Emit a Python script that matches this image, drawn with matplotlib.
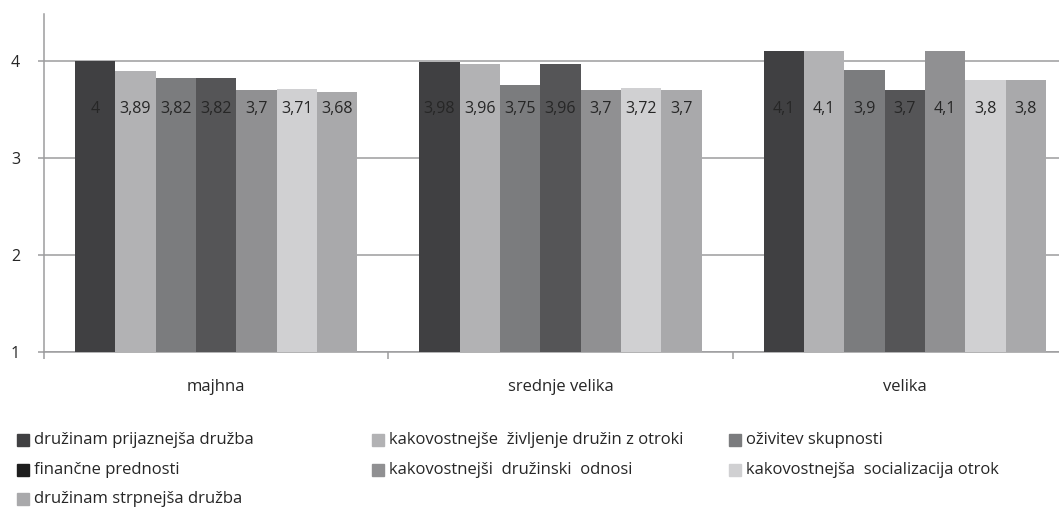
import matplotlib
matplotlib.use("Agg")
import matplotlib.pyplot as plt
from matplotlib.patches import Rectangle
import numpy as np

plt.rcParams['font.family'] = ['Open Sans', 'DejaVu Sans']

categories = ["majhna", "srednje velika", "velika"]
series_names = [
    "družinam prijaznejša družba",
    "kakovostnejše  življenje družin z otroki",
    "oživitev skupnosti",
    "finančne prednosti",
    "kakovostnejši  družinski  odnosi",
    "kakovostnejša  socializacija otrok",
    "družinam strpnejša družba",
]
values = [
    [4.0, 3.98, 4.1],
    [3.89, 3.96, 4.1],
    [3.82, 3.75, 3.9],
    [3.82, 3.96, 3.7],
    [3.7, 3.7, 4.1],
    [3.71, 3.72, 3.8],
    [3.68, 3.7, 3.8],
]
labels = [
    ["4", "3,98", "4,1"],
    ["3,89", "3,96", "4,1"],
    ["3,82", "3,75", "3,9"],
    ["3,82", "3,96", "3,7"],
    ["3,7", "3,7", "4,1"],
    ["3,71", "3,72", "3,8"],
    ["3,68", "3,7", "3,8"],
]
colors = ["#404042", "#b2b2b4", "#7b7c7e", "#555557", "#909092", "#d0d0d2", "#a9a9ab"]
legend_colors = ["#404042", "#b2b2b4", "#7b7c7e", "#1e1e1e", "#909092", "#d0d0d2", "#a9a9ab"]

W, H = 1059, 508
fig = plt.figure(figsize=(W / 100, H / 100), dpi=100)
x0, x1, ytop, ybot = 44, 1077, 14, 351.5
ax = fig.add_axes([x0 / W, 1 - ybot / H, (x1 - x0) / W, (ybot - ytop) / H])

n = len(series_names)
group_w = 0.82
bw = group_w / n
x = np.arange(len(categories))
ymin = 1
for i in range(n):
    xs = x - group_w / 2 + bw * (i + 0.5)
    vals = np.array(values[i])
    ax.bar(xs, vals - ymin, bottom=ymin, width=bw, color=colors[i], zorder=3)
    for xx, lab in zip(xs, labels[i]):
        ax.text(xx, 3.5, lab, ha="center", va="center", fontsize=11.5, color="#262626", zorder=4)

gc = "#9c9c9e"
ax.set_xlim(-0.5, len(categories) - 0.5)
ax.set_ylim(1, 4.48)
ax.set_yticks([1, 2, 3, 4])
ax.set_yticklabels(["1", "2", "3", "4"], fontsize=11.5, color="#262626")
ax.yaxis.grid(True, color=gc, linewidth=1.1, zorder=0)
ax.set_xticks([-0.5, 0.5, 1.5, 2.5])
ax.set_xticklabels([])
ax.set_xticks(x, minor=True)
ax.set_xticklabels(categories, minor=True, fontsize=12, color="#262626")
ax.tick_params(axis="x", which="minor", length=0, pad=20)
ax.tick_params(axis="x", which="major", length=5, color=gc, width=1.1)
ax.tick_params(axis="y", length=4.3, color=gc, width=1.1, pad=13)
for s in ["top", "right"]:
    ax.spines[s].set_visible(False)
for s in ["left", "bottom"]:
    ax.spines[s].set_color(gc)
    ax.spines[s].set_linewidth(1.1)

# legend
col_x = [17, 372, 729]
row_y = [440, 470, 499]
for i, name in enumerate(series_names):
    r, c = divmod(i, 3)
    px, py = col_x[c], row_y[r]
    fig.patches.append(Rectangle((px / W, 1 - (py + 6) / H), 12 / W, 12 / H,
                                 transform=fig.transFigure, color=legend_colors[i]))
    fig.text((px + 17) / W, 1 - py / H, name, fontsize=12, color="#262626", va="center", ha="left")

fig.savefig("out.png", dpi=100)
